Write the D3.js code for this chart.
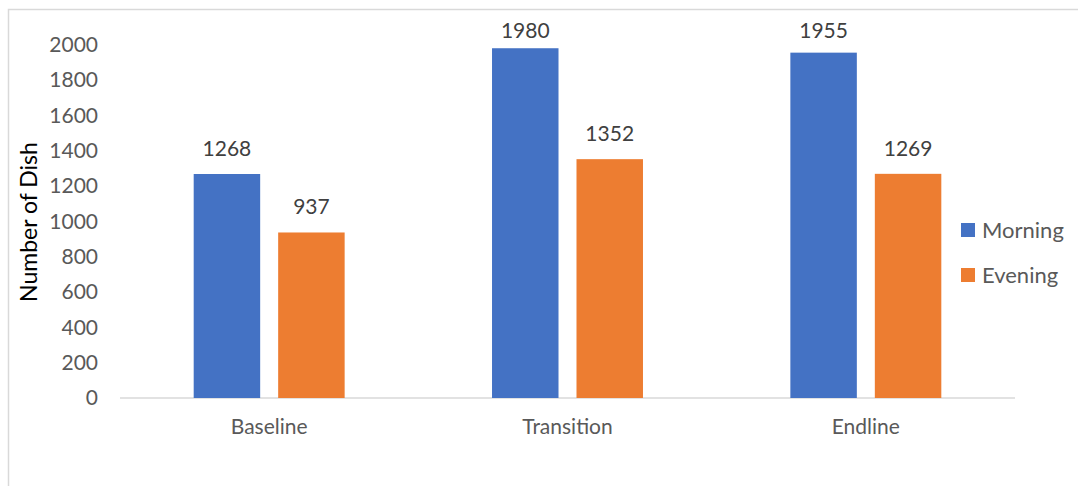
<!DOCTYPE html>
<html>
<head>
<meta charset="utf-8">
<script src="https://cdn.jsdelivr.net/npm/d3@7"></script>
<style>
  body { margin: 0; background: #fff; }
  svg { display: block; font-family: Lato, "Open Sans", sans-serif; }
</style>
</head>
<body>
<div id="vizcont"></div>
<script>
// chart data
var categories = ["Baseline", "Transition", "Endline"];
var seriesNames = ["Morning", "Evening"];
var morning = [1268, 1980, 1955];
var evening = [937, 1352, 1269];
var yTicks = [0, 200, 400, 600, 800, 1000, 1200, 1400, 1600, 1800, 2000];
var colors = ["#4472C4", "#ED7D31"];

var W = 1078, H = 486;
var svg = d3.select("#vizcont").append("svg")
    .attr("width", W).attr("height", H);

// outer frame (only left and top visible)
svg.append("rect")
    .attr("x", 8.5).attr("y", 9.5)
    .attr("width", W + 20).attr("height", H + 20)
    .attr("fill", "none").attr("stroke", "#d9d9d9").attr("stroke-width", 1.5);

var x0 = d3.scaleBand().domain(categories).range([120, 1015])
    .paddingInner(0.494).paddingOuter(0.247);
var x1 = d3.scaleBand().domain(seriesNames).range([0, x0.bandwidth()])
    .paddingInner(0.213);
var y = d3.scaleLinear().domain([0, 2000]).range([398, 44.7]);

// y axis labels
var yAxis = svg.append("g")
    .attr("transform", "translate(112,0)")
    .call(d3.axisLeft(y).tickValues(yTicks).tickFormat(d3.format("d")).tickSize(0).tickPadding(0));
yAxis.select(".domain").remove();
yAxis.selectAll("text")
    .style("font-size", "21px").style("fill", "#595959")
    .style("font-family", "Lato, sans-serif")
    .attr("x", -14);

// baseline
svg.append("line")
    .attr("x1", 120).attr("x2", 1015)
    .attr("y1", y(0)).attr("y2", y(0))
    .attr("stroke", "#d9d9d9").attr("stroke-width", 1.5);

// x axis labels
var xAxis = svg.append("g")
    .attr("transform", "translate(0," + y(0) + ")")
    .call(d3.axisBottom(x0).tickSize(0).tickPadding(21));
xAxis.select(".domain").remove();
xAxis.selectAll("text")
    .style("font-size", "21px").style("fill", "#595959")
    .style("font-family", "Lato, sans-serif");

// bars
var rows = categories.map(function(c, i) {
  return { cat: c, vals: [morning[i], evening[i]] };
});
var groups = svg.selectAll("g.grp").data(rows).enter().append("g")
    .attr("class", "grp")
    .attr("transform", function(d) { return "translate(" + x0(d.cat) + ",0)"; });

groups.selectAll("rect").data(function(d) {
    return d.vals.map(function(v, j) { return { s: seriesNames[j], v: v, j: j }; });
  }).enter().append("rect")
    .attr("x", function(d) { return x1(d.s); })
    .attr("y", function(d) { return y(d.v); })
    .attr("width", x1.bandwidth())
    .attr("height", function(d) { return y(0) - y(d.v); })
    .attr("fill", function(d) { return colors[d.j]; });

// value labels, kept inside the chart area near the top
groups.selectAll("text.lbl").data(function(d) {
    return d.vals.map(function(v, j) { return { s: seriesNames[j], v: v }; });
  }).enter().append("text")
    .attr("class", "lbl")
    .attr("x", function(d) { return x1(d.s) + x1.bandwidth() / 2; })
    .attr("y", function(d) { return Math.max(y(d.v) - 18, 38); })
    .attr("text-anchor", "middle")
    .style("font-size", "21px").style("fill", "#404040")
    .text(function(d) { return d.v; });

// axis title
svg.append("text")
    .attr("transform", "translate(37,222) rotate(-90)")
    .attr("text-anchor", "middle")
    .style("font-size", "23px").style("fill", "#000")
    .text("Number of Dish");

// legend
var leg = svg.selectAll("g.leg").data(seriesNames).enter().append("g")
    .attr("class", "leg")
    .attr("transform", function(d, i) { return "translate(961," + (223 + i * 45) + ")"; });
leg.append("rect").attr("width", 14).attr("height", 14)
    .attr("fill", function(d, i) { return colors[i]; });
leg.append("text").attr("x", 21).attr("y", 15)
    .style("font-size", "22px").style("fill", "#595959")
    .text(function(d) { return d; });
</script>
</body>
</html>
